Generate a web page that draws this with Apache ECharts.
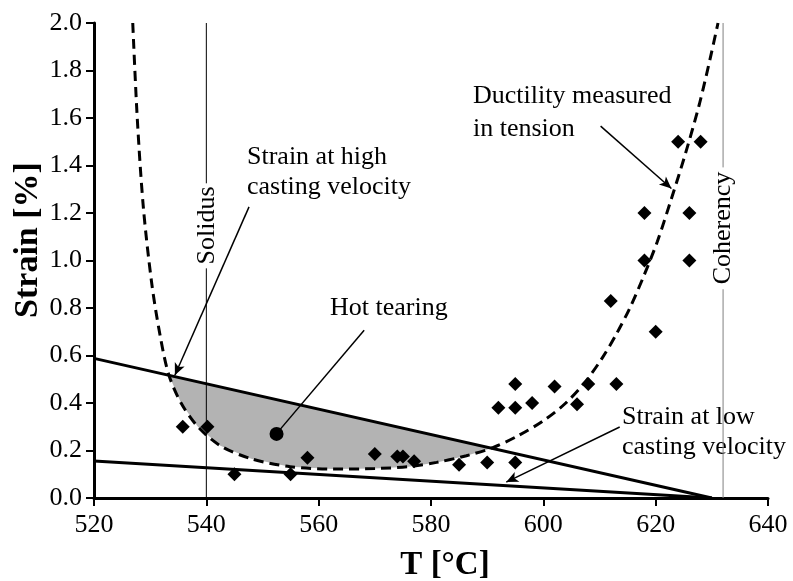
<!DOCTYPE html>
<html><head><meta charset="utf-8">
<script src="https://cdn.jsdelivr.net/npm/echarts@6/dist/echarts.min.js"></script>
<style>html,body{margin:0;padding:0;background:#fff}#c{width:793px;height:581px}</style>
</head><body><div id="c"></div>
<script>
// ---- data ----
const xMin = 520, xMax = 640, xStep = 20;
const yMin = 0, yMax = 2.0, yStep = 0.2;

// measured ductility points (diamonds)
const expT      = [535.8, 540.2, 545, 555, 558, 570, 574, 575, 577, 585, 590, 595, 592, 595, 598, 606, 595, 602, 608, 613, 612, 618, 626, 620, 618, 626, 624, 628];
const expStrain = [0.30, 0.30, 0.10, 0.10, 0.17, 0.185, 0.175, 0.175, 0.155, 0.14, 0.15, 0.15, 0.38, 0.38, 0.40, 0.395, 0.48, 0.47, 0.48, 0.48, 0.83, 1.0, 1.0, 0.70, 1.2, 1.2, 1.5, 1.5];

// hot tearing marker
const tearT = [552.5];
const tearStrain = [0.27];

// dashed ductility curve
const ductT = [526.9, 527.7, 528.8, 530.3, 531.8, 533.3, 535.5, 538.5, 542.5, 548.0, 554.9, 562.6, 570.0, 576.0, 581.0, 586.3, 591.0, 595.5, 600.0, 604.0, 607.5, 610.5, 613.0, 615.4, 617.8, 620.3, 622.8, 625.3, 627.8, 629.7, 631.1];
const ductV = [2.0, 1.60, 1.22, 0.90, 0.68, 0.52, 0.40, 0.30, 0.22, 0.165, 0.132, 0.122, 0.124, 0.132, 0.150, 0.178, 0.212, 0.262, 0.325, 0.40, 0.49, 0.59, 0.69, 0.80, 0.93, 1.08, 1.26, 1.45, 1.66, 1.85, 2.0];

// strain lines
const highT = [520, 630], highV = [0.588, 0];
const lowT  = [520, 630], lowV  = [0.156, 0];

// reference temperatures
const solidusT = 540, coherencyT = 632;
const solidusSegs = [[0, 0.967], [1.325, 2.0]];
const coherencySegs = [[0, 0.879], [1.392, 2.0]];

// annotation arrows [from, to]
const arrows = [
  [[547.6, 1.226], [534.4, 0.517], true],
  [[568.1, 0.706], [552.5, 0.271], false],
  [[610.2, 1.566], [622.8, 1.303], true],
  [[613.6, 0.299], [593.4, 0.067], true]
];

// ---- build ----
const zip = (a, b) => a.map((v, i) => [v, b[i]]);
const hv = T => highV[0] + (highV[1] - highV[0]) * (T - highT[0]) / (highT[1] - highT[0]);
function shadePoly() {
  const pts = [];
  for (let i = 0; i < ductT.length - 1; i++) {
    const d0 = hv(ductT[i]) - ductV[i], d1 = hv(ductT[i + 1]) - ductV[i + 1];
    if ((d0 <= 0 && d1 > 0) || (d0 > 0 && d1 <= 0)) {
      const f = d0 / (d0 - d1);
      const T = ductT[i] + f * (ductT[i + 1] - ductT[i]);
      pts.push([T, hv(T)]);
    }
    if (d1 > 0) pts.push([ductT[i + 1], ductV[i + 1]]);
  }
  return pts;
}
const poly = shadePoly();

const FONT = 'Liberation Serif';
const chart = echarts.init(document.getElementById('c'), null, { renderer: 'canvas' });

function vSeg(T, segs, color, name) {
  return segs.map((s, k) => ({
    type: 'line', name: name + k, data: [[T, s[0]], [T, s[1]]], symbol: 'none',
    lineStyle: { color: color, width: 1 }, z: 3, silent: true
  }));
}

const option = {
  animation: false,
  backgroundColor: '#fff',
  grid: { left: 94, right: 25, top: 23, bottom: 83, containLabel: false },
  xAxis: {
    type: 'value', min: xMin, max: xMax, interval: xStep,
    axisLine: { lineStyle: { color: '#000', width: 3 } },
    axisTick: { show: true, inside: false, length: 8, lineStyle: { color: '#000', width: 2 } },
    axisLabel: { color: '#000', fontFamily: FONT, fontSize: 26, margin: 14 },
    splitLine: { show: false }
  },
  yAxis: {
    type: 'value', min: yMin, max: yMax, interval: yStep,
    axisLine: { show: true, lineStyle: { color: '#000', width: 3 } },
    axisTick: { show: true, inside: false, length: 8, lineStyle: { color: '#000', width: 2 } },
    axisLabel: { color: '#000', fontFamily: FONT, fontSize: 26, margin: 12, formatter: v => v.toFixed(1) },
    splitLine: { show: false }
  },
  series: [
    {
      type: 'custom', name: 'shade', silent: true, z: 1, clip: false,
      data: [[poly[0][0], poly[0][1]]],
      renderItem: (params, api) => ({
        type: 'polygon',
        shape: { points: poly.map(p => api.coord(p)), smooth: 0 },
        style: { fill: '#b3b3b3', stroke: null }
      })
    },
    ...vSeg(solidusT, solidusSegs, '#000', 'solidus'),
    ...vSeg(coherencyT, coherencySegs, '#808080', 'coherency'),
    {
      type: 'line', name: 'high', data: zip(highT, highV), symbol: 'none', z: 4, silent: true,
      lineStyle: { color: '#000', width: 3 },
      markLine: {
        silent: true, animation: false, symbolSize: [8, 12],
        lineStyle: { color: '#000', width: 1.5, type: 'solid' },
        label: { show: false },
        emphasis: { disabled: true },
        data: arrows.map(a => [
          { coord: a[0], symbol: 'none' },
          { coord: a[1], symbol: a[2] ? 'arrow' : 'none' }
        ])
      }
    },
    {
      type: 'line', name: 'low', data: zip(lowT, lowV), symbol: 'none', z: 4, silent: true,
      lineStyle: { color: '#000', width: 3 }
    },
    {
      type: 'line', name: 'ductility', data: zip(ductT, ductV), symbol: 'none', z: 5, silent: true,
      smooth: 0.3,
      lineStyle: { color: '#000', width: 3, type: [10, 6] }
    },
    {
      type: 'scatter', name: 'exp', data: zip(expT, expStrain), symbol: 'diamond', symbolSize: 14, z: 6,
      itemStyle: { color: '#000', opacity: 1 }, silent: true
    },
    {
      type: 'scatter', name: 'tear', data: zip(tearT, tearStrain), symbol: 'circle', symbolSize: 14, z: 6,
      itemStyle: { color: '#000', opacity: 1 }, silent: true
    }
  ],
  graphic: [
    { type: 'text', x: 28, y: 240, rotation: Math.PI / 2,
      style: { text: 'Strain [%]', font: 'bold 34px "Liberation Serif"', fill: '#000', textAlign: 'center', textVerticalAlign: 'middle' } },
    { type: 'text', x: 445, y: 565,
      style: { text: 'T [°C]', font: 'bold 33px "Liberation Serif"', fill: '#000', textAlign: 'center', textVerticalAlign: 'middle' } },
    { type: 'text', x: 207, y: 225.5, rotation: Math.PI / 2,
      style: { text: 'Solidus', font: '26px "Liberation Serif"', fill: '#000', textAlign: 'center', textVerticalAlign: 'middle' } },
    { type: 'text', x: 723.5, y: 228, rotation: Math.PI / 2,
      style: { text: 'Coherency', font: '26px "Liberation Serif"', fill: '#000', textAlign: 'center', textVerticalAlign: 'middle' } },
    { type: 'text', x: 247, y: 142,
      style: { text: 'Strain at high\ncasting velocity', font: '26px "Liberation Serif"', lineHeight: 30, fill: '#000', textAlign: 'left', textVerticalAlign: 'top' } },
    { type: 'text', x: 330, y: 293,
      style: { text: 'Hot tearing', font: '26px "Liberation Serif"', lineHeight: 30, fill: '#000', textAlign: 'left', textVerticalAlign: 'top' } },
    { type: 'text', x: 473, y: 80,
      style: { text: 'Ductility measured\nin tension', font: '26px "Liberation Serif"', lineHeight: 33, fill: '#000', textAlign: 'left', textVerticalAlign: 'top' } },
    { type: 'text', x: 622, y: 402,
      style: { text: 'Strain at low\ncasting velocity', font: '26px "Liberation Serif"', lineHeight: 30, fill: '#000', textAlign: 'left', textVerticalAlign: 'top' } }
  ]
};
chart.setOption(option);
</script>
</body></html>
